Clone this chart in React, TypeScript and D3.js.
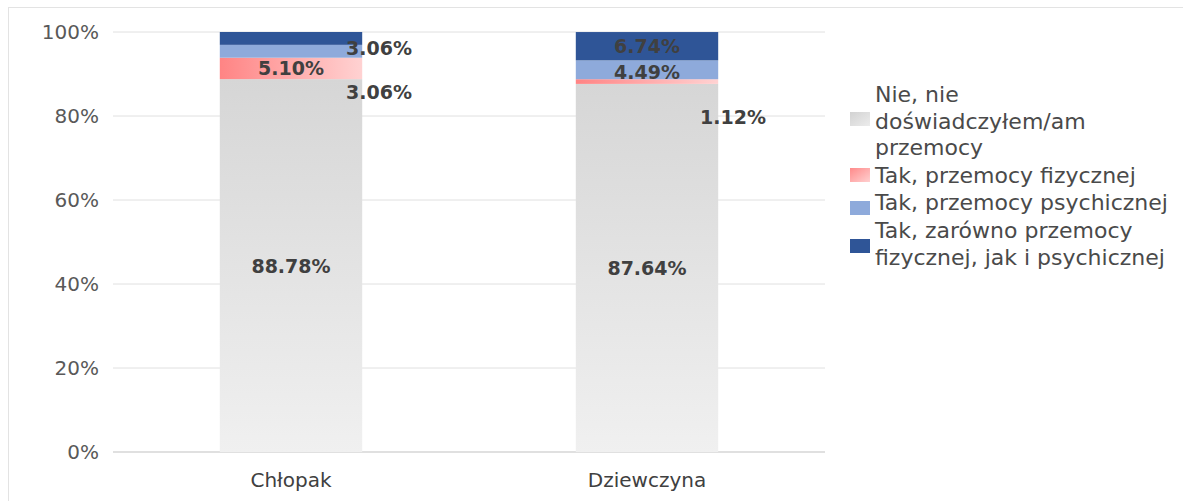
import React from "react";
import * as d3 from "d3";

const categories = ["Chłopak", "Dziewczyna"];
const seriesNames = [
  "Nie, nie doświadczyłem/am przemocy",
  "Tak, przemocy fizycznej",
  "Tak, przemocy psychicznej",
  "Tak, zarówno przemocy fizycznej, jak i psychicznej",
];
const legendLines = [
  ["Nie, nie", "doświadczyłem/am", "przemocy"],
  ["Tak, przemocy fizycznej"],
  ["Tak, przemocy psychicznej"],
  ["Tak, zarówno przemocy", "fizycznej, jak i psychicznej"],
];
const nie = [88.78, 87.64];
const fizyczna = [5.1, 1.12];
const psychiczna = [3.06, 4.49];
const obie = [3.06, 6.74];
const yTicks = [0, 20, 40, 60, 80, 100];

// manual label offsets (px) per series per category, like moved Excel labels
const labelOffsets = [
  [[0, 0], [0, 0]],
  [[0, 0], [86, 35]],
  [[88, 41], [0, 2]],
  [[88, 10], [0, 0]],
];

const W = 1183;
const H = 501;
const FONT = "'DejaVu Sans', sans-serif";

export default function App() {
  const series = [nie, fizyczna, psychiczna, obie];
  const x = d3.scaleBand().domain(categories).range([113, 825]).paddingInner(0.6).paddingOuter(0.3);
  const y = d3.scaleLinear().domain([0, 100]).range([452, 32]);

  const stackData = categories.map((c, i) => {
    const o: any = { cat: c };
    series.forEach((s, k) => (o["s" + k] = s[i]));
    return o;
  });
  const stacked = d3.stack().keys(series.map((_, k) => "s" + k))(stackData as any);

  const fills = ["url(#gGrey)", "url(#gPink)", "#8eaadb", "#2f5597"];
  const swatchFills = ["url(#gGreyS)", "url(#gPinkS)", "#8eaadb", "#2f5597"];

  const legendY = [102, 183, 210, 238];
  const swatchY = [112, 168, 201, 239];

  return (
    <svg width={W} height={H} style={{ position: "absolute", left: 0, top: 0, background: "#fff" }}>
      <defs>
        <linearGradient id="gGrey" x1="0" y1="0" x2="0" y2="1">
          <stop offset="0" stopColor="#d6d6d6" />
          <stop offset="1" stopColor="#f0f0f0" />
        </linearGradient>
        <linearGradient id="gPink" x1="0" y1="0" x2="1" y2="0">
          <stop offset="0" stopColor="#ff8484" />
          <stop offset="1" stopColor="#ffd2d2" />
        </linearGradient>
        <linearGradient id="gGreyS" x1="0" y1="0" x2="1" y2="1">
          <stop offset="0" stopColor="#d2d2d2" />
          <stop offset="1" stopColor="#ececec" />
        </linearGradient>
        <linearGradient id="gPinkS" x1="0" y1="0" x2="1" y2="1">
          <stop offset="0" stopColor="#ff8a8a" />
          <stop offset="1" stopColor="#ffd0d0" />
        </linearGradient>
      </defs>
      <rect x={8.5} y={7.5} width={W} height={H} fill="none" stroke="#e3e3e3" />
      {yTicks.map((t) => (
        <g key={t}>
          <line x1={113} x2={825} y1={y(t)} y2={y(t)} stroke={t === 0 ? "#d6d6d6" : "#e0e0e0"} strokeWidth={t === 0 ? 1.5 : 1} />
          <text x={99} y={y(t)} textAnchor="end" dominantBaseline="central" fontFamily={FONT} fontSize={20} fill="#595959">
            {t}%
          </text>
        </g>
      ))}
      {stacked.map((layer, k) => (
        <g key={k}>
          {layer.map((d, i) => (
            <rect
              key={i}
              x={x(categories[i])}
              width={x.bandwidth()}
              y={y(d[1])}
              height={y(d[0]) - y(d[1])}
              fill={fills[k]}
            />
          ))}
        </g>
      ))}
      {stacked.map((layer, k) => (
        <g key={"l" + k}>
          {layer.map((d, i) => (
            <text
              key={i}
              x={(x(categories[i]) as number) + x.bandwidth() / 2 + labelOffsets[k][i][0]}
              y={(y(d[0]) + y(d[1])) / 2 + labelOffsets[k][i][1]}
              textAnchor="middle"
              dominantBaseline="central"
              fontFamily={FONT}
              fontWeight="bold"
              fontSize={19}
              fill="#404040"
            >
              {series[k][i].toFixed(2)}%
            </text>
          ))}
        </g>
      ))}
      {categories.map((c) => (
        <text
          key={c}
          x={(x(c) as number) + x.bandwidth() / 2}
          y={480}
          textAnchor="middle"
          dominantBaseline="central"
          fontFamily={FONT}
          fontSize={20}
          fill="#404040"
        >
          {c}
        </text>
      ))}
      {seriesNames.map((s, k) => (
        <g key={s}>
          <rect x={850} y={swatchY[k]} width={20} height={14} fill={swatchFills[k]} />
          <text fontFamily={FONT} fontSize={22} fill="#4a4a4a">
            {legendLines[k].map((ln, j) => (
              <tspan key={j} x={875} y={legendY[k] + j * 26.5}>
                {ln}
              </tspan>
            ))}
          </text>
        </g>
      ))}
    </svg>
  );
}
